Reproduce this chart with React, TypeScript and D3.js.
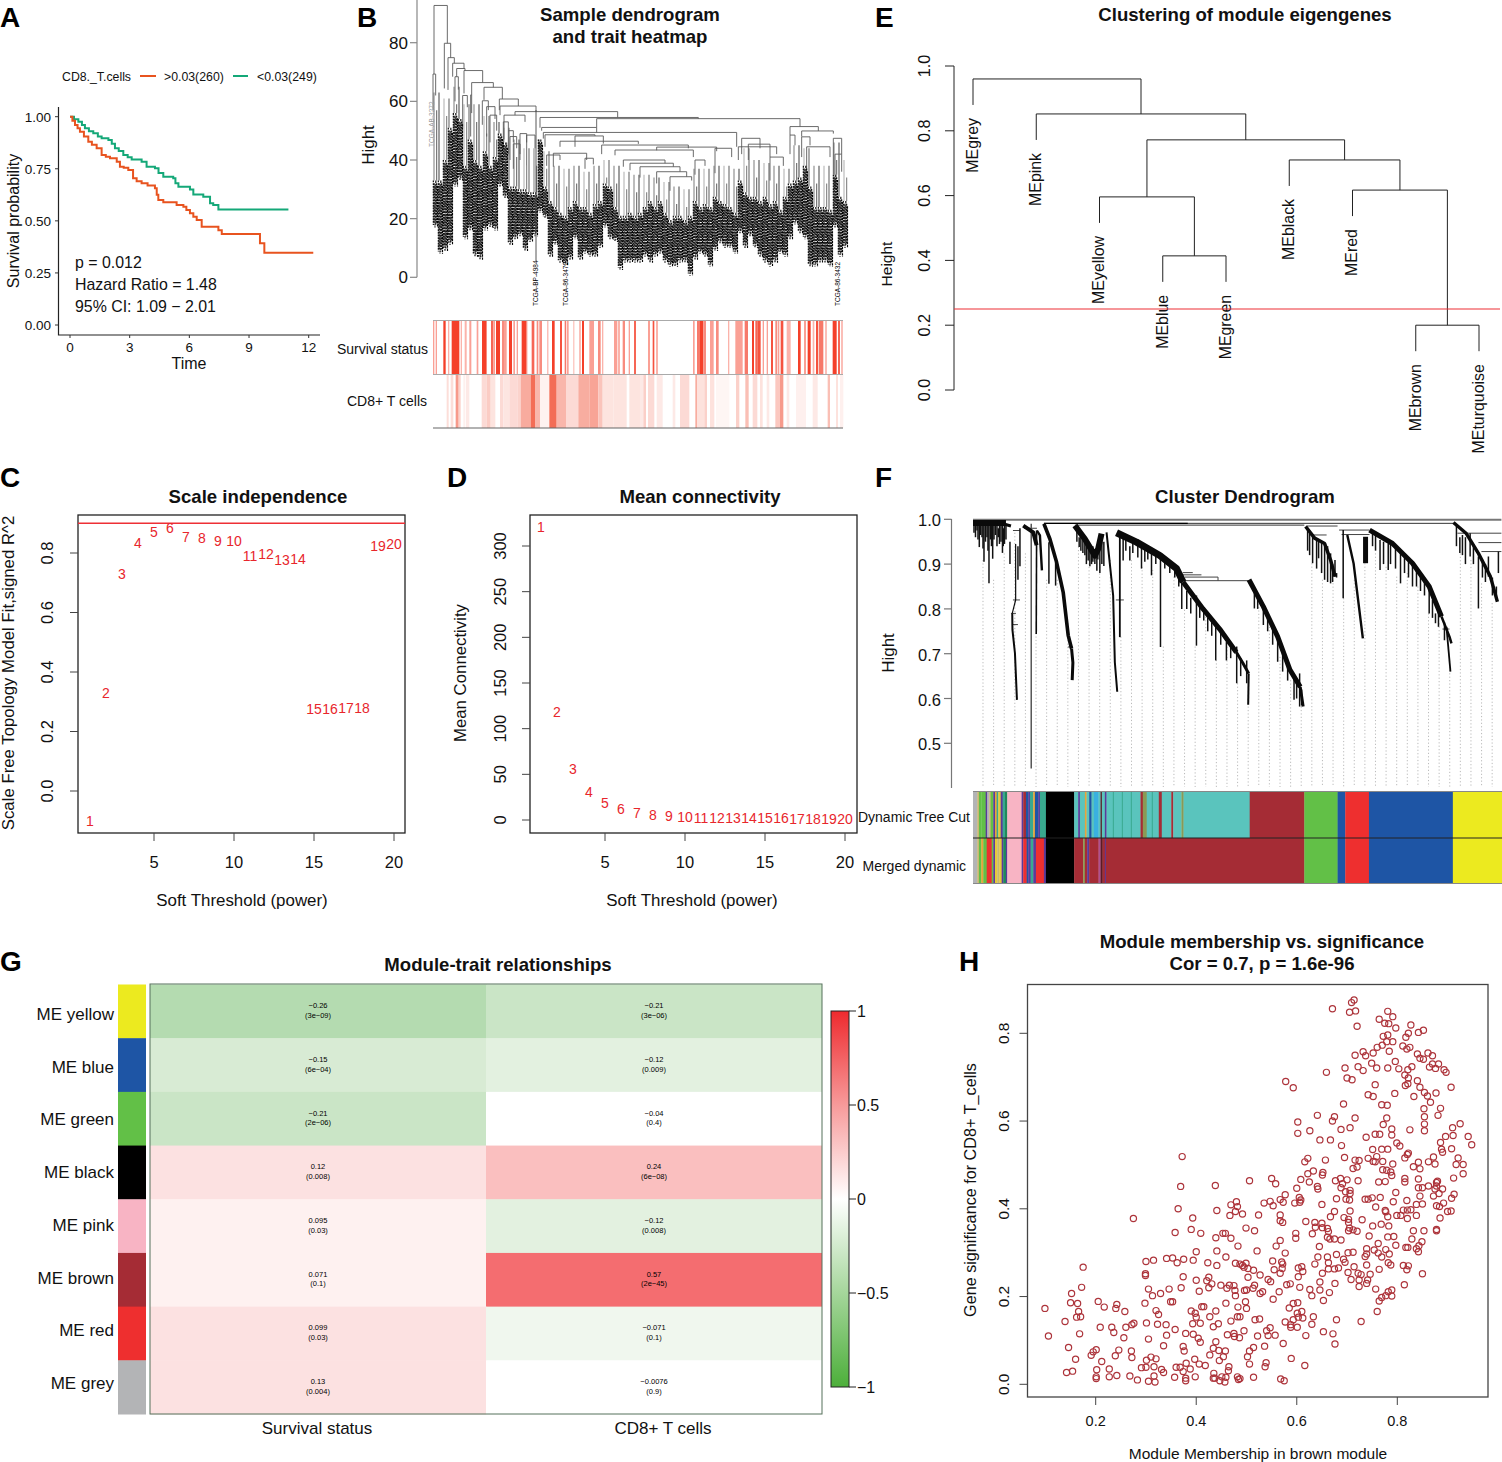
import React from "react";
import * as d3 from "d3";

const FONT = "'Liberation Sans', Arial, sans-serif";

// ---------- Panel A: Kaplan-Meier ----------
const kmHighTime = [0,.12,.25,.38,.5,.7,.92,1.1,1.34,1.59,1.8,2.01,2.35,2.51,2.7,2.93,3.17,3.35,3.6,3.9,4.27,4.36,4.44,4.69,5.19,5.36,5.7,5.85,6.03,6.2,6.37,6.62,7.46,7.63,9.55,9.77,12.23];
const kmHighSurv = [1,.98,.96,.945,.928,.905,.88,.865,.848,.816,.808,.8,.784,.76,.755,.744,.704,.69,.68,.67,.656,.625,.6,.589,.589,.576,.568,.552,.536,.52,.504,.472,.455,.437,.392,.347,.347];
const kmLowTime = [0,.2,.42,.6,.75,.95,1.17,1.4,1.59,1.93,2.1,2.26,2.45,2.68,2.9,3.1,3.6,3.85,4.27,4.45,4.69,5.19,5.3,5.45,6.03,6.2,6.7,7.04,7.2,7.46,10.98];
const kmLowSurv = [1,.988,.976,.96,.944,.93,.92,.905,.896,.888,.87,.848,.835,.816,.805,.795,.784,.76,.752,.73,.712,.704,.68,.664,.651,.627,.616,.584,.576,.555,.555];
const kmTimeTicks = [0,3,6,9,12];
const kmSurvTicks = [0,.25,.5,.75,1];
const kmStats = ["p = 0.012","Hazard Ratio = 1.48","95% CI: 1.09 − 2.01"];

// ---------- Panel B: sample dendrogram (leaf rank, height) ----------
const sampleBrackets = [
[3,43,92.7,69.3,79.8],[0,8,69.3,57,62],[34,53,79.8,64.4,74.9],[45,64,74.9,63.9,73],[59,93,73,68.4,71.2],[71,96,71.2,68.4,70.5],[93,149,70.5,62.7,66.4],[116,181,66.4,62.2,64.8],[153,208,64.8,60.5,60.8],[199,256,60.8,57,58.4],[201,309,58.4,55.3,56.5],[246,554,56.5,55.3,54.5],[491,1101,54.1,51.1,51.4],[321,796,54.5,51,54.1],[326,491,51.1,50,49.4],[331,911,49.4,47.3,44.5],[1071,1156,51.4,48.5,49.9],[1106,1201,49.9,48,49],[336,486,48.6,44.5,48.2],[381,616,46.4,44.5,45.5],[426,511,48.2,44.5,45.6],[506,766,45.1,42,44],[671,851,44.4,43.3,43],[546,781,43.4,41.6,41],[361,461,42.3,37.7,40],[341,381,41.7,38,40],[456,481,40.6,37,38.5],[571,696,40,37.7,38.9],[591,721,38.9,36.5,37.7],[621,741,37.7,34,36],[671,761,36,32,34.3],[711,776,34.3,29.5,33],[786,816,40,35,38],[846,896,44,35.5,41],[916,1031,44.5,40,42],[926,981,47.4,42,44],[946,1011,45.4,40,41],[1011,1051,41,33,38],[1071,1086,48.5,42,45],[1106,1131,47.9,41,45],[1121,1191,44.5,36,41],[1201,1226,47.4,35,42],[1206,1226,42,30,36],[66,76,68.4,60,64],[89,103,62,51,58],[113,116,62.2,48,56],[148,166,60.2,52,57],[161,186,58.2,48,54],[171,191,55.3,46,50],[213,276,55.3,47,53],[211,226,53,44,50],[231,251,48,40,44],[261,281,49,40,46],[281,306,48.5,38,44],[226,241,50,42,46],[241,261,45.5,37,42]];
const sampleMassTop = [33,33,40,51,56,54,38,47,40,38,43,38,41,49,46,31,31,30,30,29,29,47,31,26,24,22,21,24,26,24,24,22,25,26,32,31,24,21,21,22,21,22,24,26,24,26,22,19.5,21,21,19.5,21,26,24,25,24,27.5,26,25,24,22,33,29,27.5,27.5,26,27.5,25,26,23,27.5,32,33,34,38,31,24,24,24,23,35,27.5,26];
const sampleMassBottom = [17,8,9,11,31,33,13,16,7,6,16,17,16,31,27,11,13,14,9,12,14,22,20,7,11,5,4,6,13,6,8,7,7,10,17,13,12,2.5,5,5,5,5,7,5,7,8,5,3.6,3.6,5,5,.5,6,8,7,3.6,9,11.5,10,10,8,15,10,14,10,7,5,3.6,5,8,7,13,18,15,13,3.6,3.6,5,5,3.6,17,7,10];
const sampleStemTop = [66,64,68,62,62,58,56,54,50,47,47,46,41,40,41,39,41,43,41,39,38,38,37,35.5,34,33,40,40,41,41,40,47,43,42,41,40,48,47,41,41,49,43];
const sampleTicks = [0,20,40,60,80];
const sampleOutliers = [
  { name: "TCGA-BP-4984", rank: 309, top: 57 },
  { name: "TCGA-86-3472", rank: 398, top: 5 },
  { name: "TCGA-86-3432", rank: 1214, top: 5 },
];
// [from rank, to rank, intensity]
const survivalStrips = [[0,4,.5],[8,12,.5],[31,38,1],[45,49,.4],[56,79,1],[83,87,.4],[95,101,.4],[109,115,.5],[131,136,.5],[147,159,1],[159,162,.6],[174,181,.8],[181,186,.5],[189,201,1],[207,213,.6],[213,221,.5],[228,237,1],[241,246,.5],[251,255,.5],[266,279,1],[279,283,.6],[296,304,.8],[311,316,.6],[319,327,.6],[343,346,.5],[357,365,1],[381,387,.9],[395,399,.7],[401,407,.5],[421,424,.4],[439,443,.5],[447,453,1],[469,483,.5],[495,503,.6],[507,511,.4],[543,553,.5],[555,561,.4],[569,576,.6],[587,591,.5],[603,609,.8],[645,651,.5],[659,664,.9],[669,675,.4],[780,785,.5],[792,801,.7],[801,811,1],[811,819,.6],[831,842,.5],[849,857,.6],[885,889,.4],[907,929,.5],[935,945,.7],[957,963,1],[967,973,.8],[973,983,.9],[989,993,.5],[1001,1005,.5],[1014,1020,.9],[1027,1033,.6],[1035,1039,.5],[1043,1051,.9],[1061,1073,.4],[1095,1103,1],[1113,1119,.5],[1124,1133,1],[1139,1144,.4],[1149,1155,.9],[1157,1171,.7],[1177,1181,.5],[1199,1211,1],[1215,1221,.8],[1225,1229,.5]];
const cd8Strips = [[41,47,.18],[53,61,.18],[68,77,.55],[77,83,.25],[91,97,.08],[99,109,.12],[146,161,.2],[161,173,.28],[173,187,.15],[201,211,.2],[211,229,.14],[229,253,.2],[253,263,.24],[263,293,.46],[293,306,.8],[306,321,.4],[321,349,.07],[349,371,.8],[371,399,.4],[399,436,.2],[436,469,.45],[469,496,.5],[496,509,.32],[509,541,.15],[541,581,.15],[589,621,.15],[621,631,.12],[631,639,.26],[645,664,.2],[671,689,.12],[719,727,.12],[741,769,.2],[787,792,.45],[792,814,.16],[814,822,.25],[831,844,.16],[849,889,.05],[909,919,.25],[937,947,.35],[959,973,.2],[981,989,.16],[1001,1009,.12],[1027,1041,.3],[1041,1051,.55],[1061,1069,.12],[1089,1119,.08],[1139,1154,.12],[1184,1191,.35],[1209,1215,.16],[1221,1231,.08]];

// ---------- Panels C, D ----------
const powers = d3.range(1, 21);
const scaleFitR2 = [-.1,.33,.73,.835,.87,.885,.855,.85,.84,.84,.79,.795,.775,.78,.275,.275,.278,.278,.825,.83];
const meanConnectivity = [321,118,56,31,19,12,8,5.5,4,3,2.5,2.5,2.2,2,2,1.8,1.6,1.4,1.2,1];
const powerTicks = [5,10,15,20];
const r2Ticks = [0,.2,.4,.6,.8];
const connTicks = [0,50,100,150,200,250,300];

// ---------- Panel E ----------
const eigengeneTree = { h:.96, kids:[{leaf:"MEgrey"},{h:.852,kids:[{leaf:"MEpink"},{h:.772,kids:[{h:.596,kids:[{leaf:"MEyellow"},{h:.414,kids:[{leaf:"MEblue"},{leaf:"MEgreen"}]}]},{h:.71,kids:[{leaf:"MEblack"},{h:.617,kids:[{leaf:"MEred"},{h:.2,kids:[{leaf:"MEbrown"},{leaf:"MEturquoise"}]}]}]}]}]}]};
const eigengeneLeaves = ["MEgrey","MEpink","MEyellow","MEblue","MEgreen","MEblack","MEred","MEbrown","MEturquoise"];
const eigengeneTicks = [0,.2,.4,.6,.8,1];
const mergeCut = .25;

// ---------- Panel F (gene rank, height) ----------
const geneTicks = [.5,.6,.7,.8,.9,1];
const guideTops = [.909,.865,.924,.97,.924,.746,.865,.865,.768,.939,.909,.902,.909,.738,.909,.894,.887,.716,.872,.798,.716,.79,.686,.723,.634,.582,.827,.76,.693,.641,.582,.902,.865,.865,.824,.865,.902,.924,.894,.872,.88,.85,.79,.768,.664,.924,.909,.857,.813];
const geneMainBranches: { w:number; pts:number[][] }[] = [
 {w:6,pts:[[0,.992],[33,.992]]},
 {w:3,pts:[[30,.99],[38,.985]]},
 {w:1.2,pts:[[42.7,.945],[42.7,.82]]},
 {w:1.2,pts:[[42.7,.82],[39.3,.79]]},
 {w:2,pts:[[39.3,.79],[39.5,.753],[42,.701],[44,.597]]},
 {w:4,pts:[[50.3,.986],[60.3,.971],[63.7,.942]]},
 {w:1.6,pts:[[63.7,.975],[63.3,.744]]},
 {w:2.4,pts:[[64,.975],[67,.964],[69,.886]]},
 {w:3.6,pts:[[71,.99],[77,.956],[83.7,.904],[90.3,.837],[95.3,.741],[98.7,.711]]},
 {w:3,pts:[[98.7,.711],[100,.68],[99.3,.641]]},
 {w:6,pts:[[102,.986],[112,.956],[122,.919],[125.3,.934],[128.7,.968]]},
 {w:2,pts:[[133.7,.971],[140.3,.83],[142,.681],[144.4,.615]]},
 {w:1.8,pts:[[147,.968],[147,.737]]},
 {w:7,pts:[[143.7,.97],[163.7,.949],[187,.919],[203.7,.89],[210.3,.86]]},
 {w:5,pts:[[210.3,.86],[230.3,.8],[247,.755],[263.7,.703]]},
 {w:3,pts:[[263.7,.703],[270,.68],[276,.656]]},
 {w:2,pts:[[276,.656],[275.5,.586]]},
 {w:5,pts:[[276.3,.865],[290.7,.805],[305,.738],[317.3,.664],[327.6,.626]]},
 {w:3,pts:[[327.6,.626],[330.5,.582]]},
 {w:3.5,pts:[[333,.984],[342,.958],[352,.946],[358,.909],[362.4,.872]]},
 {w:1.5,pts:[[370.6,.976],[370.6,.824]]},
 {w:2.4,pts:[[374.7,.965],[381,.902],[390.3,.734]]},
 {w:5,pts:[[393,.961],[393,.902]]},
 {w:5,pts:[[397,.976],[420,.946],[440,.902],[456.7,.85],[469,.783]]},
 {w:2.5,pts:[[469,.783],[477,.738],[479,.723]]},
 {w:1.8,pts:[[474,.76],[478,.66]]},
 {w:3.4,pts:[[481,.993],[493.6,.969],[506,.924],[518,.872],[525,.816]]},
];
// [rank, top height, bottom height]
const geneStubs = [[6.3,.987,.938],[11,.987,.905],[16,.987,.857],[19.7,.987,.912],[25.3,.98,.96],[30.3,.98,.94],[37,.95,.9],[45,.94,.865],[47,.98,.895],[76,.949,.856],[82.7,.904,.852],[106.3,.96,.938],[112,.95,.92],[115.3,.945,.908],[118.7,.935,.9],[122,.925,.9],[127,.94,.88],[131,.95,.896],[150.3,.964,.908],[157,.94,.908],[168.7,.94,.89],[178.7,.927,.875],[187.7,.919,.715],[209,.86,.8],[223.7,.83,.718],[231,.793,.774],[243,.77,.685],[253.7,.726,.685],[264,.716,.634],[274,.685,.634],[281.7,.835,.801],[290.7,.805,.764],[305,.73,.682],[321.4,.649,.597],[327,.656,.582],[340,.961,.902],[346,.954,.913],[352,.943,.865],[358,.924,.857],[362.4,.909,.872],[407.5,.954,.887],[415.7,.946,.887],[428,.93,.857],[440,.902,.85],[456.7,.842,.79],[463,.79,.768],[487.4,.96,.925],[497.7,.969,.917],[506,.917,.801],[516,.917,.872],[526,.928,.88],
[1,.99,.97],[2.5,.99,.96],[4,.99,.975],[5,.99,.955],[7.5,.99,.965],[9,.99,.96],[10,.99,.935],[12.5,.99,.95],[14,.99,.96],[15,.99,.93],[17.5,.99,.955],[18.5,.99,.94],[21,.99,.955],[22.5,.99,.965],[24,.99,.94],[26.5,.99,.945],[28,.99,.95],[29.5,.985,.925],[31.5,.985,.945],[33,.985,.955],
[104,.975,.95],[108,.97,.93],[110,.96,.925],[113.5,.95,.9],[117,.945,.895],[120,.94,.905],[124,.93,.885],[129,.95,.9],[125,.95,.91],
[153,.96,.93],[160,.955,.925],[165,.945,.915],[172,.935,.905],[175,.93,.91],[183,.925,.9],[192,.91,.89],[197,.905,.88],[202,.895,.87],[206,.88,.85],[214,.84,.8],[218,.825,.79],[227,.81,.78],[235,.78,.75],[239,.775,.74],[248,.75,.72],[258,.72,.69],[268,.69,.65],
[285,.83,.8],[295,.78,.75],[300,.76,.72],[310,.71,.66],[315,.68,.64],[324,.64,.6],[329,.62,.585],
[335,.98,.93],[337,.975,.92],[344,.955,.89],[349,.95,.88],[355,.94,.86],[360,.9,.86],[364,.88,.87],
[400,.97,.94],[403,.965,.93],[411,.95,.9],[418,.945,.9],[423,.94,.89],[432,.925,.88],[436,.91,.87],[444,.89,.85],[448,.88,.84],[452,.87,.83],[460,.82,.78],[466,.8,.76],[472,.77,.73],
[484,.985,.94],[490,.965,.92],[493,.96,.9],[501,.945,.9],[510,.91,.87],[513,.9,.86],[520,.87,.83],[524,.85,.82]];
// [from rank, to rank, height]
const geneBridges = [[0,529,.999],[71,481,.991],[102,331.7,.987],[210,220,.881],[210,228.7,.876],[212,245.3,.871],[212,276,.863],[333.7,365,.985],[338,354,.965],[366.5,397,.976],[369,397,.966],[485,529,.969],[506,529,.948],[509,529,.928],[40,47,.975],[51,64,.98],[40,47,.82],[38,43,.79],[39,45,.765],[95,100,.715],[470,477,.755],[143,151,.82]];
const geneColors: Record<string,string> = { grey:"#b3b4b6", tan:"#c8b870", green:"#62c047", purple:"#5a3a9a", orange:"#e8a33a", teal:"#39a98f", gold:"#e6c93a", dkgreen:"#1f8a5a", pink:"#f8b4c4", brown:"#a52c35", blue:"#1e55a5", sky:"#3ab0e0", dkred:"#5a1a25", red:"#ee2f2f", mauve:"#b0508f", turquoise:"#5ac4bd", black:"#000", yellow:"#ecea1f", olive:"#8a9a55" };
// [segment end rank, module]
const dynamicCut: [number,string][] = [[4.3,"grey"],[6,"tan"],[8.3,"green"],[12.7,"green"],[14.3,"purple"],[16.3,"grey"],[17.7,"tan"],[20.3,"green"],[22,"purple"],[23.7,"orange"],[25.3,"teal"],[27.7,"gold"],[29.7,"purple"],[32,"teal"],[34.3,"dkgreen"],[48.7,"pink"],[50.3,"purple"],[53,"brown"],[55.3,"blue"],[57,"purple"],[60.3,"teal"],[62,"orange"],[65.3,"blue"],[67,"purple"],[73,"teal"],[101.3,"black"],[105.3,"turquoise"],[107,"purple"],[112,"turquoise"],[113.7,"orange"],[116.3,"turquoise"],[118.7,"blue"],[121,"turquoise"],[125.7,"sky"],[127.7,"turquoise"],[129,"dkred"],[132,"turquoise"],[133.7,"purple"],[140,"turquoise"],[141,"teal"],[149,"turquoise"],[150,"teal"],[158,"turquoise"],[159,"teal"],[167.7,"turquoise"],[170,"brown"],[173.9,"olive"],[179,"turquoise"],[180,"teal"],[186,"turquoise"],[189,"brown"],[198.5,"turquoise"],[200.5,"brown"],[208.7,"turquoise"],[210.8,"olive"],[277,"turquoise"],[331.7,"brown"],[365,"green"],[372.7,"blue"],[396.4,"red"],[480.4,"blue"],[529.6,"yellow"]];
const mergedDynamic: [number,string][] = [[4.3,"grey"],[6,"tan"],[8.3,"green"],[10.3,"orange"],[13.7,"green"],[18.7,"red"],[20.3,"green"],[22,"purple"],[24.3,"gold"],[26.3,"tan"],[28.7,"gold"],[30.3,"purple"],[33,"dkgreen"],[34.3,"purple"],[48.7,"pink"],[50.3,"purple"],[53.7,"red"],[55.3,"blue"],[57.7,"purple"],[60.3,"teal"],[63,"purple"],[71,"red"],[73,"purple"],[101.3,"black"],[110.3,"brown"],[112,"olive"],[114.3,"brown"],[116.3,"purple"],[125.7,"brown"],[127.7,"mauve"],[129.7,"dkred"],[132,"brown"],[133,"purple"],[331.7,"brown"],[365,"green"],[372.7,"blue"],[396.4,"red"],[480.4,"blue"],[529.6,"yellow"]];

// ---------- Panel G ----------
const moduleNames = ["ME yellow","ME blue","ME green","ME black","ME pink","ME brown","ME red","ME grey"];
const moduleColors = ["#ecea1f","#1e55a5","#62c047","#000000","#f8b4c4","#a52c35","#ee2f2f","#b3b4b6"];
const traitNames = ["Survival status","CD8+ T cells"];
const corSurvival = [-.26,-.15,-.21,.12,.095,.071,.099,.13];
const corCD8 = [-.21,-.12,-.04,.24,-.12,.57,-.071,-.0076];
const corSurvivalLabel = ["−0.26","−0.15","−0.21","0.12","0.095","0.071","0.099","0.13"];
const corCD8Label = ["−0.21","−0.12","−0.04","0.24","−0.12","0.57","−0.071","−0.0076"];
const pSurvival = ["(3e−09)","(6e−04)","(2e−06)","(0.008)","(0.03)","(0.1)","(0.03)","(0.004)"];
const pCD8 = ["(3e−06)","(0.009)","(0.4)","(6e−08)","(0.008)","(2e−45)","(0.1)","(0.9)"];
const colorbarTicks = [["1",1],["0.5",.5],["0",0],["−0.5",-.5],["−1",-1]] as [string,number][];

// ---------- Panel H (thousandths: membership, significance) ----------
const mmGs = [714,876,709,870,671,856,705,848,717,851,781,850,791,838,764,832,775,823,783,822,720,816,797,812,827,819,852,807,842,802,822,800,817,791,772,793,781,796,791,781,779,781,770,773,760,768,811,771,825,768,819,764,784,759,732,758,716,750,752,755,737,749,861,755,840,753,870,749,845,743,852,741,796,736,749,732,870,730,882,730,864,723,876,720,722,724,696,721,759,721,781,721,803,719,829,724,821,717,732,715,893,717,897,711,659,711,815,705,700,698,710,694,822,698,840,692,821,685,816,681,578,690,593,676,756,683,907,677,845,677,854,665,795,663,742,660,752,656,860,657,877,664,833,656,866,643,693,639,769,637,780,636,853,628,886,629,641,613,675,610,716,607,854,610,881,613,779,607,671,600,602,598,772,592,854,593,688,581,706,585,789,582,825,580,854,578,925,594,910,585,626,578,602,572,789,568,756,570,765,570,738,563,896,565,911,567,941,565,948,546,646,557,667,557,886,551,799,550,689,544,805,543,751,535,769,536,781,536,908,537,888,536,890,529,822,527,820,524,759,519,695,517,815,516,657,511,742,515,622,515,616,507,921,516,872,518,716,511,724,510,752,508,756,507,771,508,791,502,842,506,862,507,875,502,917,501,931,501,712,492,720,495,832,496,845,491,771,489,779,488,787,484,633,486,622,480,652,483,651,477,789,476,931,480,815,469,842,468,912,470,608,467,687,469,700,466,677,464,722,464,763,461,776,462,815,461,880,463,878,460,625,461,691,457,862,452,842,448,850,448,878,452,641,451,642,445,600,447,688,448,890,445,875,445,797,437,706,442,706,435,697,439,913,433,872,429,883,435,845,429,908,424,605,426,608,420,606,415,679,423,698,422,705,420,736,422,742,422,750,425,766,426,819,419,792,416,650,410,892,413,878,407,884,405,850,411,838,410,757,404,596,413,535,413,547,417,553,407,567,421,577,432,573,415,812,397,820,397,827,398,900,394,907,395,675,394,706,395,776,396,777,393,799,385,807,385,838,385,781,382,820,378,885,379,667,382,694,380,703,376,730,375,618,371,567,386,567,373,572,369,524,386,469,409,480,416,482,405,467,385,492,388,478,394,441,396,506,464,550,469,558,457,438,453,364,400,369,451,372,519,275,378,393,379,390,353,358,346,409,344,453,344,458,344,439,334,469,333,499,356,516,350,636,369,650,367,637,358,651,357,661,355,663,348,768,365,751,361,783,361,703,369,705,356,712,352,703,350,720,349,853,350,832,350,878,353,878,350,598,344,598,333,631,343,661,335,666,331,675,331,688,329,567,328,744,338,793,337,781,336,762,321,797,317,829,331,849,325,843,316,817,312,821,312,838,309,842,302,483,315,559,315,645,314,441,304,521,304,400,302,577,299,712,301,702,300,739,309,754,306,777,307,762,299,769,290,784,297,739,297,679,296,736,291,459,290,341,287,353,288,375,285,362,277,394,283,300,280,315,283,423,277,441,271,478,276,487,274,492,271,499,276,495,267,503,264,514,260,552,281,570,279,572,274,642,290,636,274,661,290,663,277,693,285,696,278,175,267,739,272,782,277,787,272,812,271,822,270,819,261,764,262,714,268,683,265,675,263,663,263,555,261,571,264,567,253,603,265,610,268,612,257,651,253,702,255,722,253,728,250,850,252,746,251,299,252,299,248,527,249,503,244,374,245,400,237,425,244,421,236,431,229,543,239,548,234,603,245,708,239,724,238,741,238,739,230,646,233,676,230,814,227,580,227,587,229,449,226,466,226,475,225,425,220,461,219,516,226,513,219,500,215,496,214,305,217,346,217,370,220,172,221,606,221,626,216,646,215,724,223,757,217,789,215,782,211,665,209,406,212,477,214,527,207,532,211,565,211,478,202,329,207,313,202,152,207,630,202,777,202,769,198,789,201,764,190,553,194,653,191,498,188,353,188,349,188,298,185,205,189,150,186,164,184,242,182,240,173,217,176,459,185,593,184,602,186,99,173,258,166,320,168,325,159,166,166,390,167,398,162,411,177,415,177,439,167,483,176,500,173,585,174,610,166,601,162,760,166,162,153,170,154,400,153,427,154,482,154,487,154,603,153,612,151,633,154,679,147,517,147,526,149,469,144,139,143,276,139,272,136,301,140,323,137,340,136,393,138,408,139,444,138,434,131,209,130,232,130,260,130,728,143,577,142,593,147,588,136,588,130,601,130,630,137,547,129,358,125,236,118,168,115,106,110,256,106,305,103,341,112,379,116,394,114,404,105,408,96,462,113,475,116,486,106,495,122,476,109,522,110,540,122,543,111,557,112,618,111,653,120,672,115,676,92,573,93,439,97,335,88,374,86,146,84,201,79,195,74,191,66,246,78,271,76,376,76,434,82,445,77,458,76,514,84,536,87,506,76,427,67,454,63,239,65,272,61,310,62,320,58,301,55,160,57,212,52,397,57,502,63,446,54,380,48,406,46,418,43,506,46,539,49,537,40,589,59,616,43,300,39,291,38,316,40,360,39,368,39,388,35,374,29,142,27,154,30,202,33,227,35,331,34,335,27,465,40,464,31,435,25,242,20,227,17,201,17,201,13,268,19,283,10,305,7,318,5,316,19,357,16,398,17,379,14,379,8,434,14,437,14,451,17,459,16,447,8,457,5,482,17,487,13,484,11,514,16,568,12,575,8];
const mmTicks = [.2,.4,.6,.8];
const gsTicks = [0,.2,.4,.6,.8];

// ---------- helpers ----------
const T = ({ x, y, s = 15, a = "start", w, rot, fill = "#111", children }: any) => (
  <text x={x} y={y} fontSize={s} textAnchor={a} fontWeight={w} fill={fill} fontFamily={FONT}
    transform={rot ? `rotate(${rot} ${x} ${y})` : undefined}>{children}</text>
);
const L = ({ x1, y1, x2, y2, c = "#333", w = 1, dash, op }: any) => (
  <line x1={x1} y1={y1} x2={x2} y2={y2} stroke={c} strokeWidth={w} strokeDasharray={dash} opacity={op} />
);
const TITLE = 18.6;

function PanelA() {
  const x = d3.scaleLinear().domain([0, 12]).range([70, 308.7]);
  const y = d3.scaleLinear().domain([0, 1]).range([325, 116.7]);
  const line = (ts: number[], ss: number[]) =>
    d3.line<number>().x((t) => x(t)).y((_, i) => y(ss[i])).curve(d3.curveStepAfter)(ts) || "";
  return (
    <g>
      <T x={62} y={81} s={12.3}>CD8._T.cells</T>
      <L x1={140} y1={76} x2={156} y2={76} c="#e8531f" w={2} />
      <T x={164} y={81} s={12.3}>{">0.03(260)"}</T>
      <L x1={233} y1={76} x2={248} y2={76} c="#14a878" w={2} />
      <T x={257} y={81} s={12.3}>{"<0.03(249)"}</T>
      <path d={`M58.5,107V335H320`} fill="none" stroke="#222" strokeWidth={1.2} />
      {kmSurvTicks.map((t) => (
        <g key={t}>
          <L x1={55} y1={y(t)} x2={58.5} y2={y(t)} />
          <T x={51} y={y(t) + 5} s={13.5} a="end">{t.toFixed(2)}</T>
        </g>
      ))}
      {kmTimeTicks.map((t) => (
        <g key={t}>
          <L x1={x(t)} y1={335} x2={x(t)} y2={338} />
          <T x={x(t)} y={352} s={13.5} a="middle">{t}</T>
        </g>
      ))}
      <path d={line(kmLowTime, kmLowSurv)} fill="none" stroke="#14a878" strokeWidth={2} />
      <path d={line(kmHighTime, kmHighSurv)} fill="none" stroke="#e8531f" strokeWidth={2} />
      <T x={19} y={221} s={16} a="middle" rot={-90}>Survival probability</T>
      <T x={189} y={369} s={16} a="middle">Time</T>
      {kmStats.map((t, i) => <T key={t} x={75} y={268 + i * 22} s={15.9}>{t}</T>)}
    </g>
  );
}

function PanelB() {
  const x = d3.scaleLinear().domain([0, 1230]).range([433, 843]);
  const y = d3.scaleLinear().domain([0, 80]).range([277.3, 42.7]);
  const stemShades = ["#9a9a9a", "#6a6a6a", "#c0c0c0", "#808080"];
  const strip = (d: number[], i: number, y0: number, y1: number, max: string) => (
    <rect key={i} x={x(d[0])} width={x(d[1]) - x(d[0])} y={y0} height={y1 - y0}
      fill={d3.interpolateRgb("#ffffff", max)(d[2])} />
  );
  return (
    <g>
      <L x1={417} y1={0} x2={417} y2={277.3} c="#888" w={1.2} />
      {sampleTicks.map((t) => (
        <g key={t}>
          <L x1={410} y1={y(t)} x2={417} y2={y(t)} c="#888" w={1.2} />
          <T x={408} y={y(t) + 6} s={17} a="end">{t}</T>
        </g>
      ))}
      <T x={374} y={145} s={17} a="middle" rot={-90}>Hight</T>
      <T x={630} y={21} s={TITLE} a="middle" w="bold">Sample dendrogram</T>
      <T x={630} y={43} s={TITLE} a="middle" w="bold">and trait heatmap</T>
      {sampleMassTop.map((top, i) => {
        const st = sampleStemTop[Math.floor(i / 2)];
        return (
          <g key={i}>
            <L x1={x(i * 15 + 3)} x2={x(i * 15 + 3)} y1={y(st - 3)} y2={y(top)} c={stemShades[i % 4]} w={1.3} />
            {i % 2 === 0 && <L x1={x(i * 15 + 11)} x2={x(i * 15 + 11)} y1={y(st - 9)} y2={y(top)} c={stemShades[(i + 1) % 4]} w={1.1} />}
          </g>
        );
      })}
      {sampleBrackets.map((b, i) => (
        <path key={i} d={`M${x(b[0])},${y(b[3])}V${y(b[2])}H${x(b[1])}V${y(b[4])}`} fill="none" stroke="#5a5a5a" strokeWidth={0.9} />
      ))}
      {sampleMassTop.map((top, i) =>
        [0, 2.5, 5, 7.5, 10, 12.5].map((o, j) => (
          <L key={`${i}-${j}`} x1={x(i * 15 + o + 1)} x2={x(i * 15 + o + 1)}
            y1={y(top - (j % 3) * .9)} y2={y(sampleMassBottom[i] + ((j + 1) % 3) * .8)} c="#060606" w={1.15}
            dash={j % 2 ? "2.4 .8" : "1.8 .9"} />
        ))
      )}
      {sampleOutliers.map((o) => (
        <g key={o.name}>
          {o.top > 10 && <L x1={x(o.rank)} x2={x(o.rank)} y1={y(o.top)} y2={261} c="#444" w={0.9} />}
          <T x={x(o.rank) + 2} y={306} s={6.5} rot={-90} fill="#000">{o.name}</T>
        </g>
      ))}
      <T x={434} y={147} s={6.5} rot={-90} fill="#999">TCGA-AB-3272</T>
      {survivalStrips.map((d, i) => strip(d, i, 321, 374.5, "#f4402a"))}
      {cd8Strips.map((d, i) => strip(d, i, 375, 428, "#f0482c"))}
      <L x1={433} y1={320.5} x2={843} y2={320.5} c="#aaa" w={1.2} />
      <L x1={433} y1={374.5} x2={843} y2={374.5} c="#aaa" w={1} />
      <L x1={433} y1={428} x2={843} y2={428} c="#666" w={1.2} />
      <T x={428} y={354} s={14} a="end">Survival status</T>
      <T x={427} y={406} s={14} a="end">CD8+ T cells</T>
    </g>
  );
}

function ScatterFrame({ x0, title, ylabel, ylabelX, tickLabelX, yScale, yTicks, xScale, values, cut, axisTitleX }: any) {
  return (
    <g>
      <rect x={x0} y={515} width={327} height={318} fill="none" stroke="#222" strokeWidth={1.3} />
      <T x={title[1]} y={503} s={TITLE} a="middle" w="bold">{title[0]}</T>
      <T x={axisTitleX} y={906} s={16.9} a="middle">Soft Threshold (power)</T>
      <T x={ylabelX} y={673} s={16.8} a="middle" rot={-90}>{ylabel}</T>
      {powerTicks.map((t) => (
        <g key={t}>
          <L x1={xScale(t)} y1={833} x2={xScale(t)} y2={841} c="#444" />
          <T x={xScale(t)} y={868} s={16.5} a="middle">{t}</T>
        </g>
      ))}
      {yTicks.map((t: number) => (
        <g key={t}>
          <L x1={x0 - 8} y1={yScale(t)} x2={x0} y2={yScale(t)} c="#444" />
          <T x={tickLabelX} y={yScale(t)} s={16.5} a="middle" rot={-90}>{x0 < 100 ? t.toFixed(1) : t}</T>
        </g>
      ))}
      {cut !== undefined && <L x1={x0} y1={yScale(cut)} x2={x0 + 327} y2={yScale(cut)} c="#ee2f35" w={1.4} />}
      {powers.map((p, i) => (
        <T key={p} x={xScale(p)} y={yScale(values[i]) + 5} s={14} a="middle" fill="#e8262c">{p}</T>
      ))}
    </g>
  );
}

function PanelE() {
  const x = d3.scalePoint<string>().domain(eigengeneLeaves).range([973, 1479]);
  const y = d3.scaleLinear().domain([0, 1]).range([390, 66]);
  const drop = 26;
  const parts: React.ReactNode[] = [];
  const walk = (n: any): number => {
    if (n.leaf) return x(n.leaf) as number;
    const [l, r] = n.kids;
    const xa = walk(l), xb = walk(r);
    const yt = y(n.h);
    const ya = l.leaf ? yt + drop : y(l.h);
    const yb = r.leaf ? yt + drop : y(r.h);
    parts.push(<path key={parts.length} d={`M${xa},${ya}V${yt}H${xb}V${yb}`} fill="none" stroke="#222" strokeWidth={1} />);
    if (l.leaf) parts.push(<T key={parts.length} x={xa + 5} y={ya + 13} s={15.9} a="end" rot={-90}>{l.leaf}</T>);
    if (r.leaf) parts.push(<T key={parts.length} x={xb + 5} y={yb + 13} s={15.9} a="end" rot={-90}>{r.leaf}</T>);
    return (xa + xb) / 2;
  };
  walk(eigengeneTree);
  return (
    <g>
      <T x={1245} y={21} s={TITLE} a="middle" w="bold">Clustering of module eigengenes</T>
      <L x1={954} y1={y(0)} x2={954} y2={y(1)} c="#222" />
      {eigengeneTicks.map((t) => (
        <g key={t}>
          <L x1={945} y1={y(t)} x2={954} y2={y(t)} c="#222" />
          <T x={930} y={y(t)} s={16.2} a="middle" rot={-90}>{t.toFixed(1)}</T>
        </g>
      ))}
      <T x={892} y={264} s={15.5} a="middle" rot={-90}>Height</T>
      {parts}
      <L x1={954} y1={y(mergeCut)} x2={1500} y2={y(mergeCut)} c="#ee2f35" w={1.1} />
    </g>
  );
}

function PanelF() {
  const x = d3.scaleLinear().domain([0, 529.6]).range([973, 1502]);
  const y = d3.scaleLinear().domain([.5, 1]).range([743.3, 519.3]);
  const line = d3.line<number[]>().x((d) => x(d[0])).y((d) => y(d[1]));
  const segs = (rows: [number, string][], y0: number, y1: number) => {
    let start = 0;
    return rows.map(([end, name], i) => {
      const r = <rect key={i} x={x(start)} y={y0} width={x(end) - x(start) + .3} height={y1 - y0} fill={geneColors[name]} />;
      start = end;
      return r;
    });
  };
  return (
    <g>
      <T x={1245} y={503} s={TITLE} a="middle" w="bold">Cluster Dendrogram</T>
      <L x1={951.5} y1={519} x2={951.5} y2={788} c="#777" w={1.2} />
      {geneTicks.map((t) => (
        <g key={t}>
          <L x1={944} y1={y(t)} x2={951.5} y2={y(t)} c="#777" w={1.2} />
          <T x={941} y={y(t) + 7} s={16.5} a="end">{t.toFixed(1)}</T>
        </g>
      ))}
      <T x={894} y={653} s={17} a="middle" rot={-90}>Hight</T>
      {guideTops.map((t, i) => (
        <L key={i} x1={x(10 + i * 10.62)} x2={x(10 + i * 10.62)} y1={y(t)} y2={787} c="#a8a8a8" w={0.8} dash="1.2 2.2" />
      ))}
      {geneBridges.map((b, i) => (
        <L key={i} x1={x(b[0])} x2={x(b[1])} y1={y(b[2])} y2={y(b[2])} c={i === 0 ? "#777" : i < 3 ? "#333" : "#444"} w={i === 0 ? 1.8 : 1} />
      ))}
      <L x1={x(71)} x2={x(215)} y1={y(.991)} y2={y(.991)} c="#000" w={1.4} />
      <L x1={x(245.3)} x2={x(245.3)} y1={y(.871)} y2={y(.863)} c="#444" />
      <L x1={x(58.3)} x2={x(58.3)} y1={y(.99)} y2={y(.444)} c="#555" w={1.5} />
      {geneStubs.map((s, i) => (
        <L key={i} x1={x(s[0])} x2={x(s[0])} y1={y(s[1])} y2={y(s[2])} c="#111" w={1.5} />
      ))}
      {geneMainBranches.map((b, i) => (
        <path key={i} d={line(b.pts) || ""} fill="none" stroke="#0a0a0a" strokeWidth={b.w} strokeLinejoin="round" />
      ))}
      {segs(dynamicCut, 792, 838)}
      {segs(mergedDynamic, 838, 883)}
      <L x1={973} x2={1502} y1={838} y2={838} c="#222" w={1} />
      <L x1={973} x2={1502} y1={791.5} y2={791.5} c="#888" w={1} />
      <L x1={973} x2={1502} y1={883.5} y2={883.5} c="#888" w={1} />
      <T x={970} y={822} s={14} a="end">Dynamic Tree Cut</T>
      <T x={966} y={871} s={14} a="end">Merged dynamic</T>
    </g>
  );
}

function PanelG() {
  const rows = d3.scaleBand<string>().domain(moduleNames).range([984.5, 1414]);
  const cols = d3.scaleBand<string>().domain(traitNames).range([150, 822]);
  const labelY = d3.scalePoint<string>().domain(moduleNames).range([1020, 1389]);
  const fill = d3.scaleThreshold<number, string>()
    .domain([-.235, -.18, -.135, -.09, -.05, .05, .097, .18, .4])
    .range(["#b4dbb0", "#cae5c6", "#d8ebd4", "#e3f1e0", "#f0f7ee", "#ffffff", "#fef1f0", "#fce1e1", "#fabfbf", "#f46d70"]);
  const bar = d3.scaleLinear().domain([-1, 1]).range([1387, 1011]);
  const cols2 = [corSurvival, corCD8];
  const labels = [corSurvivalLabel, corCD8Label];
  const ps = [pSurvival, pCD8];
  const textX = [318, 654];
  const h = rows.bandwidth();
  return (
    <g>
      <defs>
        <linearGradient id="gbar" x1="0" y1="1" x2="0" y2="0">
          <stop offset="0" stopColor="#4caf3a" />
          <stop offset=".25" stopColor="#a5d69b" />
          <stop offset=".5" stopColor="#ffffff" />
          <stop offset=".75" stopColor="#f79a9a" />
          <stop offset="1" stopColor="#ee2a2e" />
        </linearGradient>
      </defs>
      <T x={498} y={971} s={TITLE} a="middle" w="bold">Module-trait relationships</T>
      {moduleNames.map((m, i) => (
        <g key={m}>
          <rect x={118} width={28} y={rows(m)} height={h + .5} fill={moduleColors[i]} />
          <T x={114} y={labelY(m)} s={17} a="end">{m}</T>
          {traitNames.map((t, j) => (
            <g key={t}>
              <rect x={cols(t)} width={cols.bandwidth() - (j ? 0 : -.5)} y={rows(m)} height={h + .5} fill={fill(cols2[j][i])} />
            </g>
          ))}
        </g>
      ))}
      <rect x={150} y={984} width={672} height={430} fill="none" stroke="#55705a" strokeWidth={1} />
      {moduleNames.map((m, i) => traitNames.map((t, j) => (
        <g key={t}>
          <T x={textX[j]} y={(rows(m) as number) + h / 2 - 3} s={7.5} a="middle" fill="#000">{labels[j][i]}</T>
          <T x={textX[j]} y={(rows(m) as number) + h / 2 + 6.5} s={7.5} a="middle" fill="#000">{ps[j][i]}</T>
        </g>
      )))}
      <T x={317} y={1434} s={17} a="middle">Survival status</T>
      <T x={663} y={1434} s={17} a="middle">CD8+ T cells</T>
      <rect x={831} y={bar(1)} width={18} height={bar(-1) - bar(1)} fill="url(#gbar)" stroke="#222" strokeWidth={1} />
      {colorbarTicks.map(([lab, v]) => (
        <g key={lab}>
          <L x1={849} x2={856} y1={bar(v)} y2={bar(v)} c="#222" />
          <T x={857} y={bar(v) + 6} s={16}>{lab}</T>
        </g>
      ))}
    </g>
  );
}

function PanelH() {
  const x = d3.scaleLinear().domain([.2, .8]).range([1095.7, 1397.3]);
  const y = d3.scaleLinear().domain([0, .8]).range([1384.3, 1033.3]);
  const pts = d3.range(0, mmGs.length, 2);
  return (
    <g>
      <T x={1262} y={948} s={TITLE} a="middle" w="bold">Module membership vs. significance</T>
      <T x={1262} y={970} s={TITLE} a="middle" w="bold">Cor = 0.7, p = 1.6e-96</T>
      <rect x={1027.5} y={984.5} width={460.5} height={412.5} fill="none" stroke="#444" strokeWidth={1.3} />
      {mmTicks.map((t) => (
        <g key={t}>
          <L x1={x(t)} x2={x(t)} y1={1397} y2={1405} c="#444" />
          <T x={x(t)} y={1426} s={14.5} a="middle">{t.toFixed(1)}</T>
        </g>
      ))}
      {gsTicks.map((t) => (
        <g key={t}>
          <L x1={1019.5} x2={1027.5} y1={y(t)} y2={y(t)} c="#444" />
          <T x={1009} y={y(t)} s={15.5} a="middle" rot={-90}>{t.toFixed(1)}</T>
        </g>
      ))}
      <T x={1258} y={1459} s={15.5} a="middle">Module Membership in brown module</T>
      <T x={976} y={1190} s={16.2} a="middle" rot={-90}>Gene significance for  CD8+ T_cells</T>
      {pts.map((i) => (
        <circle key={i} cx={x(mmGs[i] / 1000)} cy={y(mmGs[i + 1] / 1000)} r={3.1} fill="none" stroke="#ad343b" strokeWidth={1.2} />
      ))}
    </g>
  );
}

const panelLetters: [string, number, number][] = [["A",0,27],["B",357,27],["E",875,27],["C",0,487],["D",447,487],["F",875,487],["G",0,971],["H",959,971]];

export default function App() {
  const cx = d3.scaleLinear().domain([5, 20]).range([154, 394]);
  const cy = d3.scaleLinear().domain([0, .8]).range([791, 553]);
  const dx = d3.scaleLinear().domain([5, 20]).range([605, 845]);
  const dy = d3.scaleLinear().domain([0, 300]).range([820, 546]);
  return (
    <svg width={1502} height={1462} viewBox="0 0 1502 1462"
      style={{ position: "absolute", left: 0, top: 0, background: "#fff" }}>
      <rect width={1502} height={1462} fill="#fff" />
      {panelLetters.map(([l, x, y]) => <T key={l} x={x} y={y} s={28} w="bold" fill="#000">{l}</T>)}
      <PanelA />
      <PanelB />
      <ScatterFrame x0={78} title={["Scale independence", 258]} ylabel="Scale Free Topology Model Fit,signed R^2" ylabelX={14} tickLabelX={53}
        yScale={cy} yTicks={r2Ticks} xScale={cx} values={scaleFitR2} cut={.9} axisTitleX={242} />
      <ScatterFrame x0={530} title={["Mean connectivity", 700]} ylabel="Mean Connectivity" ylabelX={466} tickLabelX={506}
        yScale={dy} yTicks={connTicks} xScale={dx} values={meanConnectivity} axisTitleX={692} />
      <PanelE />
      <PanelF />
      <PanelG />
      <PanelH />
    </svg>
  );
}
